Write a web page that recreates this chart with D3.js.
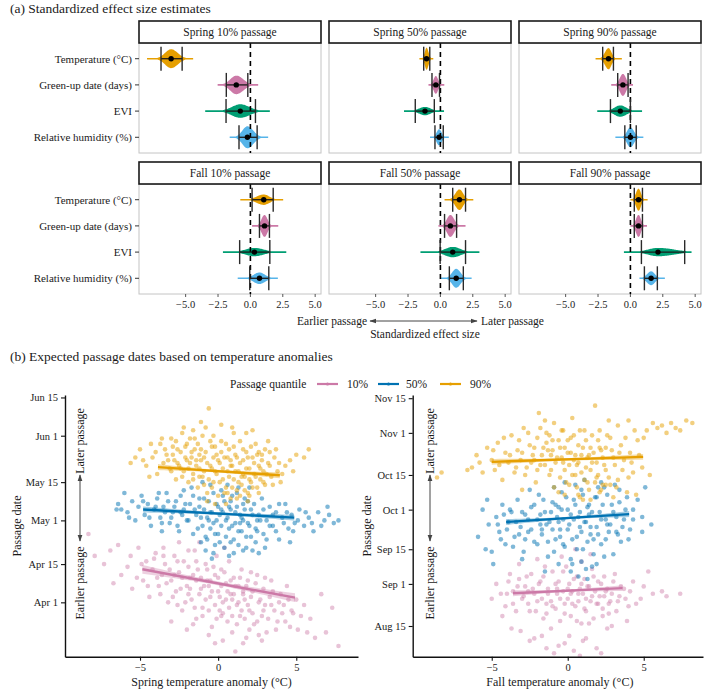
<!DOCTYPE html>
<html><head><meta charset="utf-8">
<script src="https://cdn.jsdelivr.net/npm/d3@7"></script>
<style>
body{margin:0;background:#fff}
svg{display:block}
text{font-family:"Liberation Serif","Times New Roman",serif;fill:#1a1a1a}
</style>
</head><body>
<svg id="c" width="709" height="689"></svg>
<script>
// ---------------- DATA ----------------
const predictors = ["Temperature (°C)", "Green-up date (days)", "EVI", "Relative humidity (%)"];
const predictorColors = ["#E69F00", "#CC79A7", "#009E73", "#56B4E9"];
const facetTitles = ["Spring 10% passage", "Spring 50% passage", "Spring 90% passage",
                     "Fall 10% passage", "Fall 50% passage", "Fall 90% passage"];
// per predictor: [median, interval low, interval high, tail low, tail high]
const spring10Eff = [[-6.12,-6.9,-5.27,-7.98,-4.42],[-1.09,-1.86,-0.2,-2.53,0.6],[-0.78,-1.88,0.39,-3.49,1.5],[-0.23,-0.88,0.52,-1.6,1.37]];
const spring50Eff = [[-1.07,-1.29,-0.82,-1.62,-0.55],[-0.35,-0.65,-0.07,-0.92,0.3],[-1.19,-1.94,-0.47,-2.81,0.28],[-0.1,-0.42,0.22,-0.8,0.65]];
const spring90Eff = [[-1.69,-2.14,-1.31,-2.69,-0.66],[-0.58,-0.98,-0.18,-1.48,0.2],[-0.78,-1.54,0.0,-2.56,0.9],[0.0,-0.43,0.45,-1.16,1.0]];
const fall10Eff = [[1.03,0.13,1.76,-0.78,2.53],[1.09,0.7,1.47,0.13,2.15],[0.31,-0.83,1.5,-2.12,2.77],[0.7,-0.05,1.42,-0.98,2.12]];
const fall50Eff = [[1.47,0.95,1.94,0.32,2.54],[0.77,0.32,1.25,-0.15,1.94],[0.95,-0.02,1.94,-1.54,3.01],[1.22,0.69,1.77,0.05,2.41]];
const fall90Eff = [[0.63,0.3,0.93,0.0,1.33],[0.63,0.3,0.93,0.0,1.28],[2.13,0.85,4.19,-0.5,4.72],[1.6,1.08,2.08,0.7,2.66]];
const effTicks = [-5, -2.5, 0, 2.5, 5];

const quantiles = ["10%", "50%", "90%"];
const quantileColors = ["#CC79A7", "#0072B2", "#E69F00"];
const springTickDoy = [91, 105, 121, 135, 152, 166];
const springTickLabels = ["Apr 1", "Apr 15", "May 1", "May 15", "Jun 1", "Jun 15"];
const fallTickDoy = [227, 244, 258, 274, 288, 305, 319];
const fallTickLabels = ["Aug 15", "Sep 1", "Sep 15", "Oct 1", "Oct 15", "Nov 1", "Nov 15"];
const anomalyTicks = [-5, 0, 5];

// points: [temperature anomaly, passage day of year]
const spring10Pts = [[-8.3,116],[-7.9,108],[-6.9,110],[-6.4,112],[-6.2,101],[-5.8,104],[-5.5,96],[-5.1,111],[-4.8,99],[-4.6,106],[-4.4,93],[-4.2,103],[-4.0,109],[-3.8,97],[-3.6,101],[-3.4,105],[-3.2,91],[-3.0,99],[-2.8,108],[-2.7,95],[-2.5,102],[-2.3,88],[-2.2,106],[-2.0,97],[-1.8,100],[-1.7,92],[-1.5,110],[-1.4,85],[-1.3,103],[-1.1,96],[-1.0,89],[-0.8,105],[-0.7,99],[-0.5,93],[-0.4,82],[-0.2,101],[-0.1,108],[0.0,95],[0.1,88],[0.2,103],[0.3,91],[0.5,98],[0.6,84],[0.7,106],[0.8,94],[0.9,80],[1.0,100],[1.2,90],[1.3,97],[1.4,86],[1.5,103],[1.7,92],[1.8,78],[1.9,99],[2.0,88],[2.2,95],[2.3,83],[2.5,101],[2.6,91],[2.8,86],[2.9,96],[3.1,80],[3.3,93],[3.4,99],[3.6,88],[3.8,84],[4.0,94],[4.2,90],[4.4,97],[4.6,82],[4.8,87],[5.0,92],[5.3,86],[5.7,80],[6.2,78],[6.6,94],[6.9,80],[7.3,89],[7.7,75],[-0.2,76],[1.1,73],[2.8,77],[-2.0,81],[-3.0,84],[0.4,111],[-1.2,113],[-1.9,94],[-0.6,97],[0.9,92],[2.1,102],[-2.6,90],[1.6,95],[3.0,90],[-1.4,99],[0.2,86],
  [-5.6,108],[-5.2,100],[-4.9,105],[-4.5,97],[-4.1,107],[-3.9,100],[-3.7,94],[-3.5,108],[-3.3,98],[-3.1,103],[-2.9,93],[-2.8,101],[-2.6,106],[-2.4,96],[-2.3,100],[-2.1,91],[-1.9,104],[-1.8,96],[-1.6,101],[-1.5,89],[-1.4,106],[-1.2,94],[-1.1,100],[-1.0,86],[-0.9,97],[-0.8,92],[-0.7,103],[-0.6,88],[-0.5,99],[-0.4,95],[-0.3,104],[-0.2,90],[-0.1,85],[0.0,100],[0.1,93],[0.2,97],[0.3,87],[0.4,102],[0.5,92],[0.6,95],[0.7,89],[0.8,99],[0.9,86],[1.0,94],[1.1,97],[1.2,83],[1.3,91],[1.4,100],[1.5,88],[1.6,94],[1.7,85],[1.8,97],[1.9,90],[2.0,81],[2.1,93],[2.2,87],[2.4,98],[2.5,84],[2.7,92],[2.9,88],[3.0,100],[3.2,85],[3.4,90],[3.5,95],[3.7,81],[3.9,91],[4.1,87],[4.3,84],[4.5,92],[4.7,88],[5.1,81],[5.5,90],[5.9,85],[-7.3,105],[-6.7,98],[-0.6,79],[0.3,77],[1.6,76],[2.6,79],[-1.6,83],[-2.5,113],[-3.5,111],[-1.9,110]];
const spring50Pts = [[-6.4,127],[-6.2,125],[-6.0,131],[-5.8,124],[-5.5,128],[-5.3,121],[-5.1,126],[-4.9,130],[-4.7,123],[-4.5,127],[-4.3,119],[-4.1,125],[-3.9,129],[-3.7,122],[-3.5,126],[-3.3,131],[-3.1,120],[-2.9,124],[-2.7,128],[-2.5,117],[-2.3,123],[-2.1,127],[-1.9,121],[-1.7,133],[-1.5,125],[-1.3,118],[-1.1,122],[-0.9,129],[-0.7,114],[-0.5,124],[-0.4,107],[-0.3,120],[-0.1,127],[0.0,116],[0.1,123],[0.3,130],[0.4,111],[0.5,121],[0.7,126],[0.8,113],[0.9,119],[1.1,124],[1.2,131],[1.3,117],[1.5,122],[1.6,127],[1.8,115],[1.9,120],[2.1,125],[2.2,110],[2.4,118],[2.6,123],[2.8,129],[2.9,116],[3.1,121],[3.3,126],[3.5,119],[3.7,124],[3.9,114],[4.1,122],[4.3,127],[4.5,118],[4.7,123],[4.9,120],[5.2,125],[5.5,119],[5.8,122],[6.1,117],[6.4,124],[6.8,121],[7.1,123],[7.4,120],[7.7,121],[-1.0,135],[0.6,134],[-2.2,132],[2.0,133],[-0.2,112],[1.0,109],[-0.8,110],[3.0,111],[-3.6,117],[4.6,113],[1.7,129],[-1.6,130],[-0.6,121],[0.2,125],[1.4,120],[-1.2,126],[0.8,128],[-2.4,124],[2.5,121],
  [-4.8,128],[-4.4,122],[-4.0,126],[-3.8,131],[-3.6,120],[-3.4,124],[-3.2,128],[-3.0,122],[-2.8,126],[-2.6,119],[-2.4,130],[-2.2,125],[-2.0,121],[-1.8,127],[-1.6,116],[-1.4,123],[-1.2,129],[-1.0,119],[-0.9,125],[-0.8,115],[-0.7,122],[-0.6,128],[-0.5,118],[-0.4,124],[-0.3,131],[-0.2,116],[-0.1,121],[0.0,126],[0.1,113],[0.2,119],[0.3,124],[0.4,128],[0.5,115],[0.6,122],[0.7,118],[0.8,125],[0.9,130],[1.0,114],[1.1,120],[1.2,126],[1.3,112],[1.4,123],[1.5,117],[1.6,121],[1.7,125],[1.8,111],[1.9,128],[2.0,119],[2.1,115],[2.2,123],[2.3,127],[2.4,113],[2.5,117],[2.7,121],[2.9,125],[3.1,114],[3.3,119],[3.5,123],[3.7,117],[3.9,127],[4.2,120],[4.4,124],[4.8,117],[5.1,121],[5.6,124],[6.0,120],[6.6,119],[7.0,126],[-5.7,122],[-6.5,125],[-0.3,109],[0.7,108],[1.6,110],[-1.1,113],[2.6,109],[-0.5,134],[1.3,133],[0.2,132]];
const spring90Pts = [[-4.6,141],[-4.2,144],[-4.0,146],[-3.9,138],[-3.7,149],[-3.5,142],[-3.3,145],[-3.1,140],[-3.0,151],[-2.8,143],[-2.7,136],[-2.6,147],[-2.5,141],[-2.3,153],[-2.2,139],[-2.1,144],[-2.0,149],[-1.9,135],[-1.8,142],[-1.7,146],[-1.6,138],[-1.5,151],[-1.4,143],[-1.3,133],[-1.2,140],[-1.1,147],[-1.0,137],[-0.9,144],[-0.8,155],[-0.7,131],[-0.6,162],[-0.5,141],[-0.4,148],[-0.3,135],[-0.2,139],[-0.1,145],[0.0,130],[0.1,142],[0.2,150],[0.3,136],[0.4,144],[0.5,133],[0.6,139],[0.7,147],[0.8,129],[0.9,141],[1.0,136],[1.1,145],[1.2,132],[1.3,139],[1.4,150],[1.5,134],[1.6,143],[1.7,137],[1.8,146],[1.9,131],[2.0,140],[2.1,135],[2.2,144],[2.3,138],[2.4,149],[2.5,133],[2.6,141],[2.7,136],[2.8,145],[2.9,139],[3.0,134],[3.2,142],[3.4,137],[3.6,144],[3.8,139],[4.0,135],[4.3,141],[4.6,143],[5.0,145],[5.5,144],[-5.0,147],[-5.6,142],[-4.4,137],[0.2,156],[1.0,153],[-1.6,154],[2.2,154],[-0.3,152],[3.3,146],[-2.9,148],[0.6,131],[1.4,130],[-0.9,134],[1.9,128],[-0.4,140],[0.8,143],[-1.2,145],[1.6,138],[-2.4,140],[2.6,146],
  [-3.4,147],[-3.2,143],[-3.0,139],[-2.9,145],[-2.7,150],[-2.6,142],[-2.4,146],[-2.3,137],[-2.1,148],[-2.0,143],[-1.9,140],[-1.8,151],[-1.7,144],[-1.6,136],[-1.5,147],[-1.4,141],[-1.3,149],[-1.2,137],[-1.1,143],[-1.0,152],[-0.9,139],[-0.8,146],[-0.7,142],[-0.6,136],[-0.5,150],[-0.4,133],[-0.3,144],[-0.2,148],[-0.1,138],[0.0,143],[0.1,135],[0.2,146],[0.3,140],[0.4,131],[0.5,149],[0.6,144],[0.7,137],[0.8,141],[0.9,133],[1.0,148],[1.1,139],[1.2,144],[1.3,135],[1.4,142],[1.5,137],[1.6,147],[1.7,132],[1.8,140],[1.9,144],[2.0,136],[2.1,148],[2.2,133],[2.3,142],[2.4,137],[2.5,145],[2.6,131],[2.7,140],[2.8,143],[2.9,135],[3.0,147],[3.1,138],[3.3,141],[3.5,134],[3.7,147],[3.9,142],[4.1,138],[-4.3,149],[-4.8,143],[-3.6,151],[-2.2,155],[-1.1,157],[0.9,155],[1.8,153],[-0.2,127],[0.5,127],[1.2,129],[2.0,130],[-0.7,128],[3.2,150],[4.8,139],[5.8,147],[-5.3,144]];
const fall10Pts = [[-5.0,238],[-4.7,244],[-4.3,231],[-4.0,240],[-3.8,248],[-3.6,236],[-3.3,243],[-3.1,225],[-2.9,239],[-2.7,247],[-2.5,233],[-2.3,242],[-2.2,222],[-2.0,237],[-1.8,245],[-1.6,230],[-1.5,251],[-1.3,240],[-1.1,226],[-1.0,235],[-0.8,244],[-0.6,219],[-0.5,238],[-0.3,249],[-0.2,232],[0.0,242],[0.1,223],[0.3,236],[0.4,246],[0.6,229],[0.7,240],[0.9,253],[1.0,221],[1.1,234],[1.3,243],[1.4,228],[1.6,239],[1.7,247],[1.9,218],[2.0,236],[2.2,244],[2.3,231],[2.5,241],[2.6,226],[2.8,237],[3.0,245],[3.2,233],[3.4,239],[3.7,242],[4.0,235],[4.3,245],[4.8,238],[5.3,249],[5.6,240],[6.2,241],[6.5,239],[7.4,240],[-0.4,255],[0.5,258],[1.5,256],[-2.0,254],[2.9,227],[-0.9,216],[0.8,215],[2.2,216],[-3.2,252],[-1.4,236],[0.2,240],[1.2,238],[-0.7,242],[2.4,239],[-2.6,241],[0.9,244],
  [-4.4,240],[-4.1,235],[-3.9,245],[-3.6,241],[-3.4,233],[-3.2,246],[-3.0,238],[-2.8,243],[-2.6,236],[-2.4,248],[-2.2,240],[-2.1,233],[-1.9,244],[-1.7,238],[-1.6,247],[-1.4,232],[-1.3,242],[-1.1,237],[-1.0,249],[-0.8,234],[-0.7,240],[-0.6,245],[-0.5,229],[-0.3,241],[-0.2,236],[-0.1,251],[0.0,238],[0.1,244],[0.2,231],[0.3,241],[0.5,235],[0.6,247],[0.7,237],[0.8,242],[0.9,228],[1.0,240],[1.1,246],[1.2,233],[1.4,243],[1.5,237],[1.6,250],[1.7,230],[1.8,241],[1.9,236],[2.0,245],[2.1,239],[2.3,234],[2.4,247],[2.6,242],[2.7,236],[2.9,240],[3.1,248],[3.3,237],[3.5,243],[3.8,238],[4.1,241],[4.5,236],[5.0,243],[-3.7,226],[-2.5,221],[-1.7,223],[-0.2,220],[1.2,222],[0.4,217],[-1.4,218],[2.7,232],[3.9,229]];
const fall50Pts = [[-5.9,263],[-5.6,274],[-5.2,268],[-5.0,257],[-4.7,271],[-4.5,265],[-4.3,276],[-4.1,260],[-3.9,269],[-3.7,273],[-3.5,263],[-3.3,278],[-3.1,267],[-2.9,257],[-2.8,272],[-2.6,265],[-2.4,275],[-2.2,261],[-2.0,270],[-1.9,280],[-1.7,266],[-1.5,273],[-1.3,255],[-1.2,269],[-1.0,277],[-0.8,262],[-0.7,271],[-0.5,266],[-0.4,281],[-0.2,259],[0.0,274],[0.1,268],[0.3,252],[0.4,278],[0.6,263],[0.7,271],[0.9,282],[1.0,258],[1.2,269],[1.3,275],[1.5,264],[1.6,251],[1.8,279],[1.9,267],[2.1,273],[2.2,260],[2.4,283],[2.5,270],[2.7,265],[2.9,276],[3.0,256],[3.2,271],[3.4,282],[3.6,267],[3.8,274],[4.0,262],[4.3,270],[4.6,278],[4.9,265],[5.1,283],[4.9,271],[-1.5,249],[0.2,254],[1.2,250],[-0.9,283],[2.0,283],[-2.5,282],[3.1,284],[-4.9,252],[-3.0,254],[0.5,284],[1.7,262],[-0.3,270],[0.8,267],[-1.8,268],[1.4,272],[-0.6,275],[2.6,268],
  [-4.6,268],[-4.4,262],[-4.2,272],[-4.0,266],[-3.8,274],[-3.6,259],[-3.4,269],[-3.2,264],[-3.0,273],[-2.8,262],[-2.6,270],[-2.4,266],[-2.2,276],[-2.0,260],[-1.8,272],[-1.7,264],[-1.6,278],[-1.4,268],[-1.3,261],[-1.1,273],[-1.0,266],[-0.9,257],[-0.8,276],[-0.6,269],[-0.5,263],[-0.4,274],[-0.3,260],[-0.1,279],[0.0,266],[0.2,272],[0.3,262],[0.4,270],[0.5,276],[0.6,258],[0.8,273],[0.9,265],[1.0,280],[1.1,269],[1.3,261],[1.4,276],[1.5,267],[1.6,273],[1.7,256],[1.9,279],[2.0,264],[2.2,270],[2.3,276],[2.5,262],[2.6,280],[2.8,268],[3.0,273],[3.2,265],[3.4,277],[3.5,261],[3.7,270],[3.9,279],[4.1,266],[4.3,274],[-5.4,258],[-5.3,278],[0.2,249],[0.9,253],[1.9,252],[2.4,255],[-0.6,252],[0.7,247],[1.3,246],[-0.2,285],[1.1,286],[2.2,285],[3.3,264],[5.5,268]];
const fall90Pts = [[-8.6,287],[-8.3,289],[-6.3,291],[-6.0,296],[-5.6,289],[-5.3,299],[-5.0,294],[-4.8,290],[-4.6,301],[-4.3,286],[-4.1,297],[-3.9,293],[-3.7,304],[-3.5,289],[-3.3,298],[-3.1,294],[-2.9,307],[-2.7,291],[-2.5,300],[-2.3,296],[-2.1,285],[-2.0,303],[-1.9,313],[-1.8,292],[-1.6,299],[-1.4,305],[-1.2,288],[-1.1,296],[-1.0,302],[-0.8,293],[-0.6,281],[-0.5,299],[-0.3,306],[-0.2,290],[0.0,297],[0.1,284],[0.2,303],[0.4,294],[0.5,288],[0.7,300],[0.8,279],[0.9,296],[1.1,306],[1.2,291],[1.3,285],[1.5,299],[1.6,293],[1.8,316],[1.9,287],[2.0,302],[2.2,282],[2.3,295],[2.5,290],[2.6,304],[2.8,284],[2.9,298],[3.1,292],[3.3,286],[3.5,300],[3.7,294],[3.9,281],[4.1,297],[4.3,289],[4.6,302],[4.9,291],[5.2,306],[5.6,309],[5.9,307],[6.2,308],[6.5,305],[6.8,309],[7.1,307],[7.4,306],[7.8,310],[8.2,309],[5.4,288],[4.5,280],[0.3,311],[-1.5,310],[2.7,310],[1.0,278],[-0.9,283],[-3.0,282],[3.0,279],[-0.4,295],[0.6,292],[-1.3,298],[1.4,296],[-2.2,294],[2.1,299],
  [-4.9,298],[-4.5,292],[-4.2,303],[-3.8,296],[-3.4,291],[-3.2,302],[-3.0,297],[-2.8,288],[-2.6,305],[-2.4,293],[-2.2,299],[-2.0,290],[-1.8,307],[-1.7,296],[-1.5,292],[-1.4,301],[-1.2,304],[-1.1,290],[-1.0,298],[-0.9,309],[-0.7,295],[-0.6,302],[-0.5,287],[-0.4,306],[-0.3,293],[-0.2,299],[-0.1,285],[0.0,302],[0.1,292],[0.2,297],[0.3,288],[0.4,304],[0.5,296],[0.6,283],[0.7,293],[0.8,306],[0.9,289],[1.0,299],[1.1,286],[1.2,302],[1.3,295],[1.4,282],[1.5,290],[1.6,304],[1.7,297],[1.8,285],[1.9,293],[2.0,288],[2.1,306],[2.2,298],[2.3,284],[2.4,292],[2.5,299],[2.7,287],[2.8,303],[3.0,295],[3.2,283],[3.4,297],[3.6,290],[3.8,303],[4.0,287],[4.2,293],[4.4,306],[4.7,296],[-6.6,290],[-5.8,293],[3.3,308],[4.0,310],[5.0,303],[0.7,280],[1.5,278],[2.1,281],[-0.2,280],[2.5,284]];

// fitted lines: [x start, doy start, x end, doy end, band half-width at ends (days), at centre]
const springFits = [[-4.85,103.1,4.92,92.7,1.6,0.7],[-4.8,125,4.87,122,1.1,0.5],[-3.85,140.5,3.95,137.5,1.1,0.5]];
const fallFits = [[-3.6,240.2,3.6,242.3,1.2,0.5],[-4.05,269,4.04,272.2,1.2,0.5],[-5.0,293.3,4.96,295.3,1.2,0.5]];

// ---------------- DRAW ----------------
const svg = d3.select("#c");
const fmtMinus = s => String(s).replace("-", "\u2212");

// ---- Panel (a) ----
svg.append("text").attr("x", 10).attr("y", 13).attr("font-size", 13.5).text("(a) Standardized effect size estimates");

const effFacets = [spring10Eff, spring50Eff, spring90Eff, fall10Eff, fall50Eff, fall90Eff];
const colX = [139, 329, 519], colW = 182;
const rows = [{strip: 21, top: 43, bottom: 153}, {strip: 162, top: 184, bottom: 294}];
const xEff = d3.scaleLinear().domain([-8.6, 5.45]).range([0, colW]);
const H = 11;

effFacets.forEach((facet, fi) => {
  const col = fi % 3, row = rows[Math.floor(fi / 3)];
  const g = svg.append("g").attr("transform", `translate(${colX[col]},0)`);
  const yCat = d3.scalePoint().domain(predictors).range([row.top, row.bottom]).padding(0.6);

  g.append("rect").attr("x", 0).attr("y", row.top).attr("width", colW).attr("height", row.bottom - row.top)
    .attr("fill", "#fff").attr("stroke", "#c4c4c4").attr("stroke-width", 1);

  const spreads = facet.map(d => (d[2] - d[1]));
  const minSpread = d3.min(spreads);

  facet.forEach((d, i) => {
    const [m, lo, hi, tlo, thi] = d;
    const sL = (m - lo) / 1.645, sR = (hi - m) / 1.645;
    const peak = H * Math.max(0.38, minSpread / spreads[i]);
    const vals = d3.range(0, 81).map(k => tlo + (thi - tlo) * k / 80);
    if (!vals.includes(m)) { vals.push(m); vals.sort((a, b) => a - b); }
    const dens = vals.map(v => {
      const z = v < m ? (v - m) / sL : (v - m) / sR;
      return {v, h: Math.max(0.8, peak * Math.exp(-0.5 * z * z))};
    });
    const y = yCat(predictors[i]);
    const area = d3.area().x(p => xEff(p.v)).y0(p => y + p.h).y1(p => y - p.h).curve(d3.curveMonotoneX);
    g.append("path").attr("d", area(dens)).attr("fill", predictorColors[i]).attr("stroke", "none");
  });

  // zero line
  g.append("line").attr("x1", xEff(0)).attr("x2", xEff(0)).attr("y1", row.top).attr("y2", row.bottom)
    .attr("stroke", "#000").attr("stroke-width", 1.6).attr("stroke-dasharray", "5,4");

  facet.forEach((d, i) => {
    const [m, lo, hi] = d;
    const y = yCat(predictors[i]);
    g.append("line").attr("x1", xEff(lo)).attr("x2", xEff(hi)).attr("y1", y).attr("y2", y).attr("stroke", "#1a1a1a").attr("stroke-width", 1.3);
    [lo, hi].forEach(v => g.append("line").attr("x1", xEff(v)).attr("x2", xEff(v)).attr("y1", y - 12).attr("y2", y + 12)
      .attr("stroke", "#2a2a2a").attr("stroke-width", 1.4));
    g.append("circle").attr("cx", xEff(m)).attr("cy", y).attr("r", 2.7).attr("fill", "#000");
  });

  // strip
  g.append("rect").attr("x", 0).attr("y", row.strip).attr("width", colW).attr("height", row.top - row.strip)
    .attr("fill", "#fff").attr("stroke", "#1a1a1a").attr("stroke-width", 1.6);
  g.append("text").attr("x", colW / 2).attr("y", (row.strip + row.top) / 2 + 4).attr("text-anchor", "middle")
    .attr("font-size", 11.5).text(facetTitles[fi]);

  if (col === 0) {
    predictors.forEach(p => {
      const y = yCat(p);
      g.append("line").attr("x1", -4).attr("x2", 0).attr("y1", y).attr("y2", y).attr("stroke", "#333").attr("stroke-width", 1);
      g.append("text").attr("x", -7).attr("y", y + 4).attr("text-anchor", "end").attr("font-size", 11).text(p);
    });
  }
  if (fi >= 3) {
    effTicks.forEach(t => {
      g.append("line").attr("x1", xEff(t)).attr("x2", xEff(t)).attr("y1", row.bottom).attr("y2", row.bottom + 3).attr("stroke", "#555");
      g.append("text").attr("x", xEff(t)).attr("y", row.bottom + 14).attr("text-anchor", "middle").attr("font-size", 10.5)
        .attr("fill", "#333").text(fmtMinus(d3.format(".1f")(t)));
    });
  }
});

// arrow defs
const defs = svg.append("defs");
defs.append("marker").attr("id", "ah").attr("viewBox", "0 0 10 10").attr("refX", 9).attr("refY", 5)
  .attr("markerWidth", 7).attr("markerHeight", 7).attr("orient", "auto-start-reverse")
  .append("path").attr("d", "M0,1.5 L10,5 L0,8.5 Z").attr("fill", "#444");

svg.append("text").attr("x", 367).attr("y", 325).attr("text-anchor", "end").attr("font-size", 11.5).text("Earlier passage");
svg.append("line").attr("x1", 370).attr("x2", 477).attr("y1", 321).attr("y2", 321).attr("stroke", "#444").attr("stroke-width", 1)
  .attr("marker-start", "url(#ah)").attr("marker-end", "url(#ah)");
svg.append("text").attr("x", 481).attr("y", 325).attr("text-anchor", "start").attr("font-size", 11.5).text("Later passage");
svg.append("text").attr("x", 425).attr("y", 338).attr("text-anchor", "middle").attr("font-size", 11.5).text("Standardized effect size");

// ---- Panel (b) ----
svg.append("text").attr("x", 10).attr("y", 361).attr("font-size", 13.5).text("(b) Expected passage dates based on temperature anomalies");

// legend
svg.append("text").attr("x", 230).attr("y", 388).attr("font-size", 11.5).text("Passage quantile");
const legX = [[317, 347], [378, 406], [440, 470]];
quantiles.forEach((q, i) => {
  svg.append("line").attr("x1", legX[i][0]).attr("x2", legX[i][0] + 21).attr("y1", 384).attr("y2", 384)
    .attr("stroke", quantileColors[i]).attr("stroke-width", 2.2);
  svg.append("circle").attr("cx", legX[i][0] + 10.5).attr("cy", 384).attr("r", 1.6).attr("fill", quantileColors[i]);
  svg.append("text").attr("x", legX[i][1]).attr("y", 388).attr("font-size", 11.5).text(q);
});

function scatterPanel(cfg) {
  const {xs, ys, pts, fits, tickDoy, tickLabels, xTitle, axisX, annX, titleShift} = cfg;
  const g = svg.append("g");
  pts.forEach((set, qi) => {
    g.append("g").selectAll("circle").data(set).join("circle")
      .attr("cx", d => xs(d[0])).attr("cy", d => ys(d[1])).attr("r", 2.3)
      .attr("fill", quantileColors[qi]).attr("fill-opacity", qi === 0 ? 0.45 : 0.5);
  });
  fits.forEach((f, qi) => {
    const [x0, y0, x1, y1, seE, seM] = f;
    const xm = (x0 + x1) / 2;
    const xsArr = d3.range(0, 41).map(k => x0 + (x1 - x0) * k / 40);
    const band = xsArr.map(x => {
      const t = (x - xm) / (x1 - xm);
      const yv = y0 + (y1 - y0) * (x - x0) / (x1 - x0);
      const hw = Math.sqrt(seM * seM + (seE * seE - seM * seM) * t * t);
      return {x, lo: yv - hw, hi: yv + hw};
    });
    g.append("path").attr("d", d3.area().x(d => xs(d.x)).y0(d => ys(d.lo)).y1(d => ys(d.hi))(band))
      .attr("fill", quantileColors[qi]).attr("fill-opacity", 0.35);
    g.append("line").attr("x1", xs(x0)).attr("y1", ys(y0)).attr("x2", xs(x1)).attr("y2", ys(y1))
      .attr("stroke", quantileColors[qi]).attr("stroke-width", 2.4);
  });
  const yAxis = g.append("g").attr("transform", `translate(${xs.range()[0]},0)`)
    .call(d3.axisLeft(ys).tickValues(tickDoy).tickFormat((d, i) => tickLabels[i]).tickSize(4).tickSizeOuter(0));
  const xAxis = g.append("g").attr("transform", `translate(0,${ys.range()[0]})`)
    .call(d3.axisBottom(xs).tickValues(anomalyTicks).tickFormat(d => fmtMinus(d)).tickSize(4).tickSizeOuter(0));
  [yAxis, xAxis].forEach(a => {
    a.select(".domain").attr("stroke", "#111").attr("stroke-width", 1.4);
    a.selectAll(".tick line").attr("stroke", "#111").attr("stroke-width", 1.1);
    a.selectAll(".tick text").attr("font-family", "Liberation Serif, serif").attr("font-size", 10.5).attr("fill", "#333");
  });
  g.append("text").attr("transform", `translate(${axisX},526) rotate(-90)`).attr("text-anchor", "middle")
    .attr("font-size", 12).text("Passage date");
  g.append("text").attr("x", (xs.range()[0] + xs.range()[1]) / 2 + titleShift).attr("y", 686).attr("text-anchor", "middle")
    .attr("font-size", 12).text(xTitle);
  g.append("text").attr("transform", `translate(${annX + 4},441) rotate(-90)`).attr("text-anchor", "middle")
    .attr("font-size", 12).text("Later passage");
  g.append("text").attr("transform", `translate(${annX + 4},583) rotate(-90)`).attr("text-anchor", "middle")
    .attr("font-size", 12).text("Earlier passage");
  g.append("line").attr("x1", annX).attr("x2", annX).attr("y1", 475).attr("y2", 541).attr("stroke", "#444").attr("stroke-width", 1)
    .attr("marker-start", "url(#ah)").attr("marker-end", "url(#ah)");
}

scatterPanel({
  xs: d3.scaleLinear().domain([-9.8, 8.95]).range([65, 358]),
  ys: d3.scaleLinear().domain([71.1, 166.9]).range([656.7, 395]),
  pts: [spring10Pts, spring50Pts, spring90Pts], fits: springFits,
  tickDoy: springTickDoy, tickLabels: springTickLabels,
  xTitle: "Spring temperature anomaly (°C)", axisX: 21, annX: 80, titleShift: 0
});
scatterPanel({
  xs: d3.scaleLinear().domain([-10.2, 8.9]).range([412.7, 703]),
  ys: d3.scaleLinear().domain([214.6, 320.3]).range([656.7, 395]),
  pts: [fall10Pts, fall50Pts, fall90Pts], fits: fallFits,
  tickDoy: fallTickDoy, tickLabels: fallTickLabels,
  xTitle: "Fall temperature anomaly (°C)", axisX: 371, annX: 430, titleShift: 2
});
</script>
</body></html>
